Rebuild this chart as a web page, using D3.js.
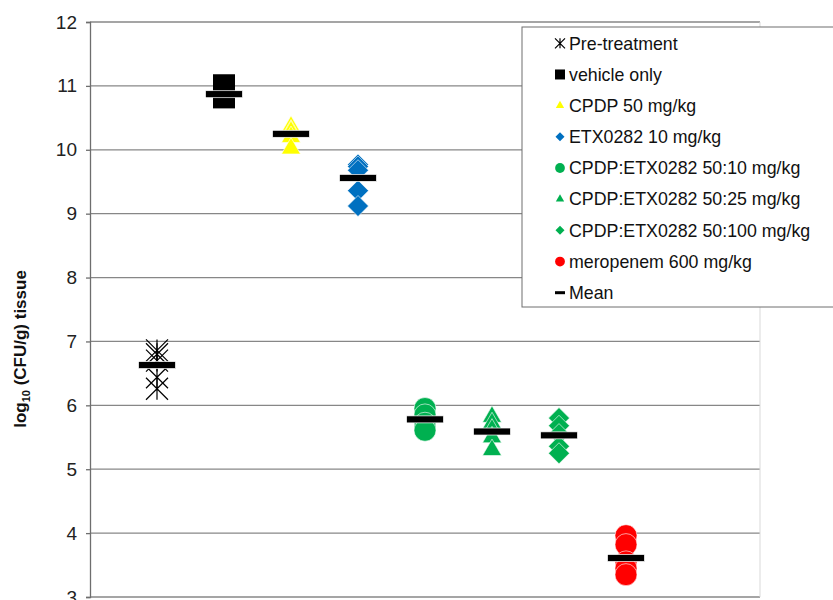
<!DOCTYPE html>
<html>
<head>
<meta charset="utf-8">
<script src="https://cdn.jsdelivr.net/npm/d3@7"></script>
<style>
  body { margin: 0; background: #fff; }
  svg { display: block; font-family: "Liberation Sans", Arial, sans-serif; }
</style>
</head>
<body>
<svg id="chart" width="833" height="600"></svg>
<script>
// groups, left to right
var groups = ['Pre-treatment', 'vehicle only', 'CPDP 50 mg/kg', 'ETX0282 10 mg/kg',
  'CPDP:ETX0282 50:10 mg/kg', 'CPDP:ETX0282 50:25 mg/kg', 'CPDP:ETX0282 50:100 mg/kg',
  'meropenem 600 mg/kg'];
var markers = ['asterisk', 'square', 'triangle', 'diamond', 'circle', 'triangle', 'diamond', 'circle'];
var colors = ['#000000', '#000000', '#ffff00', '#0070c0', '#00b050', '#00b050', '#00b050', '#ff0000'];

// individual animals, log10 CFU/g
var pretreatment = [6.86, 6.8, 6.7, 6.44, 6.26];
var vehicle = [11.01, 10.9, 10.85, 10.83, 10.82];
var cpdp50 = [10.36, 10.3, 10.28, 10.2, 10.02];
var etx10 = [9.77, 9.74, 9.68, 9.36, 9.12];
var combo10 = [5.95, 5.85, 5.72, 5.65, 5.61];
var combo25 = [5.82, 5.72, 5.62, 5.5, 5.3];
var combo100 = [5.8, 5.68, 5.55, 5.36, 5.25];
var meropenem = [3.96, 3.82, 3.55, 3.45, 3.35];
var means = [6.63, 10.87, 10.25, 9.56, 5.78, 5.59, 5.53, 3.61];

var yTicks = [3, 4, 5, 6, 7, 8, 9, 10, 11, 12];

var series = [pretreatment, vehicle, cpdp50, etx10, combo10, combo25, combo100, meropenem];

var svg = d3.select('#chart');
var plotL = 90, plotR = 760, plotT = 22, plotB = 597;

var x = d3.scaleLinear().domain([0, 10]).range([plotL, plotR]);
var y = d3.scaleLinear().domain([3, 12]).range([plotB, plotT]);

// excel style diamond and asterisk
var symDiamond = {
  draw: function(ctx, size) {
    var r = Math.sqrt(size) / 2;
    ctx.moveTo(0, -r); ctx.lineTo(r, 0); ctx.lineTo(0, r); ctx.lineTo(-r, 0); ctx.closePath();
  }
};
var symAsterisk = {
  draw: function(ctx, size) {
    var r = Math.sqrt(size) / 2;
    ctx.moveTo(-r, -r); ctx.lineTo(r, r);
    ctx.moveTo(r, -r); ctx.lineTo(-r, r);
    ctx.moveTo(0, -r); ctx.lineTo(0, r);
  }
};
var types = { asterisk: symAsterisk, square: d3.symbolSquare, triangle: d3.symbolTriangle,
  diamond: symDiamond, circle: d3.symbolCircle };
var bigSize = { asterisk: 22 * 22, square: 22 * 22, triangle: 156, diamond: 21 * 21, circle: 380 };
var smallSize = { asterisk: 10 * 10, square: 10 * 10, triangle: 30, diamond: 9 * 9, circle: 75 };

// grid
svg.append('g').selectAll('line').data(yTicks).enter().append('line')
  .attr('x1', plotL).attr('x2', plotR)
  .attr('y1', function(d) { return y(d); }).attr('y2', function(d) { return y(d); })
  .attr('stroke', '#878787').attr('stroke-width', 1.3);

// light plot border on the right
svg.append('line').attr('x1', plotR).attr('x2', plotR).attr('y1', plotT).attr('y2', plotB)
  .attr('stroke', '#d9d9d9').attr('stroke-width', 1);

// y axis
var yAxis = d3.axisLeft(y).tickValues(yTicks).tickSize(4).tickPadding(9).tickFormat(d3.format('d'));
var ga = svg.append('g').attr('transform', 'translate(' + plotL + ',0)').call(yAxis);
ga.select('.domain').attr('stroke', '#6e6e6e').attr('stroke-width', 1.3);
ga.selectAll('.tick line').attr('stroke', '#6e6e6e').attr('stroke-width', 1.3);
ga.selectAll('.tick text').attr('font-size', 19).attr('fill', '#222')
  .attr('font-family', '"Liberation Sans", Arial, sans-serif');

var title = svg.append('text')
  .attr('transform', 'translate(26,349) rotate(-90)')
  .attr('text-anchor', 'middle').attr('font-size', 17).attr('font-weight', 'bold').attr('fill', '#111');
title.append('tspan').text('log');
title.append('tspan').attr('font-size', 11).attr('dy', 4).text('10');
title.append('tspan').attr('dy', -4).text(' (CFU/g) tissue');

// points
series.forEach(function(vals, i) {
  var m = markers[i];
  var sym = d3.symbol().type(types[m]).size(bigSize[m]);
  svg.append('g').selectAll('path').data(vals).enter().append('path')
    .attr('transform', function(d) { return 'translate(' + x(i + 1) + ',' + y(d) + ')'; })
    .attr('d', sym)
    .attr('fill', m === 'asterisk' ? 'none' : colors[i])
    .attr('stroke', m === 'asterisk' ? '#000' : (m === 'square' ? 'none' : '#fff'))
    .attr('stroke-width', m === 'asterisk' ? 1.2 : 0.6);
});

// means
svg.append('g').selectAll('rect').data(means).enter().append('rect')
  .attr('x', function(d, i) { return x(i + 1) - 18.5; })
  .attr('y', function(d) { return y(d) - 3.5; })
  .attr('width', 37).attr('height', 7)
  .attr('fill', '#000').attr('stroke', '#fff').attr('stroke-width', 0.7);

// legend
var legend = svg.append('g');
legend.append('rect').attr('x', 522).attr('y', 27).attr('width', 320).attr('height', 280)
  .attr('fill', '#fff').attr('stroke', '#6e6e6e').attr('stroke-width', 1);
var items = groups.concat(['Mean']);
var ly = d3.scaleLinear().domain([0, items.length - 1]).range([43.3, 292.7]);
var li = legend.selectAll('g.item').data(items).enter().append('g')
  .attr('transform', function(d, i) { return 'translate(560,' + ly(i) + ')'; });
li.each(function(d, i) {
  var g = d3.select(this);
  if (i < groups.length) {
    var m = markers[i];
    g.append('path').attr('d', d3.symbol().type(types[m]).size(smallSize[m]))
      .attr('fill', m === 'asterisk' ? 'none' : colors[i])
      .attr('stroke', m === 'asterisk' ? '#000' : 'none')
      .attr('stroke-width', 1.2);
  } else {
    g.append('rect').attr('x', -5).attr('y', -1.5).attr('width', 10).attr('height', 3).attr('fill', '#000');
  }
});
li.append('text').attr('x', 9).attr('dy', '0.35em').attr('font-size', 17.8).attr('fill', '#111')
  .text(function(d) { return d; });
</script>
</body>
</html>
